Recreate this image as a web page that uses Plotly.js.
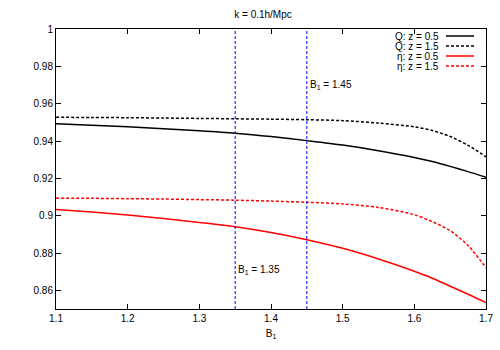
<!DOCTYPE html>
<html>
<head>
<meta charset="utf-8">
<script src="https://cdn.plot.ly/plotly-3.0.1.min.js"></script>
<style>html,body{margin:0;padding:0;background:#fff;}#chart{width:500px;height:350px;}</style>
</head>
<body>
<div id="chart"></div>
<script>
var B1 = [1.1, 1.15, 1.2, 1.25, 1.3, 1.35, 1.4, 1.45, 1.5, 1.55, 1.6, 1.625, 1.65, 1.675, 1.7];
var Q_z05 = [0.9493, 0.9485, 0.9476, 0.9466, 0.9455, 0.9442, 0.9424, 0.9402, 0.9378, 0.9348, 0.9312, 0.9290, 0.9264, 0.9236, 0.9206];
var Q_z15 = [0.9527, 0.9526, 0.9525, 0.9523, 0.9521, 0.9519, 0.9517, 0.9514, 0.9509, 0.9496, 0.9476, 0.9456, 0.9424, 0.9377, 0.9315];
var eta_z05 = [0.9033, 0.9019, 0.9003, 0.8985, 0.8964, 0.8941, 0.8910, 0.8871, 0.8825, 0.8768, 0.8702, 0.8665, 0.8622, 0.8579, 0.8534];
var eta_z15 = [0.9094, 0.9093, 0.9091, 0.9089, 0.9086, 0.9083, 0.9078, 0.9072, 0.9063, 0.9044, 0.9005, 0.8968, 0.8920, 0.8840, 0.8721];
var seriesNames = ["Q: z = 0.5", "Q: z = 1.5", "\u03b7: z = 0.5", "\u03b7: z = 1.5"];
var markers = [1.35, 1.45];
var markerLabels = ["B<sub>1</sub> = 1.35", "B<sub>1</sub> = 1.45"];
var markerLabelY = [0.8709, 0.9698];
var yRange = [0.85, 1];
var xRange = [1.1, 1.7];

var styles = [
  {color: "#000000", dash: "solid"},
  {color: "#000000", dash: "3px,2px"},
  {color: "#ff0000", dash: "solid"},
  {color: "#ff0000", dash: "3px,2px"}
];
var ys = [Q_z05, Q_z15, eta_z05, eta_z15];
var traces = ys.map(function (y, i) {
  return {x: B1, y: y, type: "scatter", mode: "lines", name: seriesNames[i],
    line: {color: styles[i].color, dash: styles[i].dash, width: 1.5, shape: "spline", smoothing: 0.8},
    showlegend: false, hoverinfo: "skip"};
});
// vertical marker lines
markers.forEach(function (m) {
  traces.push({x: [m, m], y: yRange, type: "scatter", mode: "lines",
    line: {color: "#0000ff", dash: "3px,2px", width: 1}, showlegend: false, hoverinfo: "skip"});
});

var font = {family: "Liberation Sans, Arial, sans-serif", size: 10, color: "#000"};
var annotations = markers.map(function (m, i) {
  return {x: m, y: markerLabelY[i], xref: "x", yref: "y", text: markerLabels[i], showarrow: false,
    xanchor: "left", yanchor: "middle", xshift: 1, font: font};
});
var shapes = [];
// custom legend (gnuplot style: text right, sample line at right)
var legTop = 1 - (36 - 29) / 280;
seriesNames.forEach(function (n, i) {
  var yp = legTop - i * 10 / 280;
  annotations.push({x: (441 - 56) / 430, y: yp, xref: "paper", yref: "paper", text: n, showarrow: false,
    xanchor: "right", yanchor: "middle", font: font});
  shapes.push({type: "line", xref: "paper", yref: "paper", x0: (446 - 56) / 430, x1: (474 - 56) / 430,
    y0: yp, y1: yp, line: {color: styles[i].color, dash: styles[i].dash, width: 1.5}});
});

var layout = {
  width: 500, height: 350,
  margin: {l: 56, r: 14, t: 29, b: 41},
  paper_bgcolor: "#fff", plot_bgcolor: "#fff",
  font: font,
  title: {text: "k = 0.1h/Mpc", x: 263 / 500, xref: "container", xanchor: "center",
    y: 1 - 14 / 350, yref: "container", yanchor: "middle", font: font},
  xaxis: {range: xRange, dtick: 0.1, tick0: 1.1, showgrid: false, zeroline: false,
    showline: true, linecolor: "#000", linewidth: 1, mirror: "allticks",
    ticks: "inside", ticklen: 5, tickcolor: "#000", tickfont: font,
    title: {text: "B<sub>1</sub>", font: font, standoff: 6}},
  yaxis: {range: yRange, dtick: 0.02, tick0: 0.86, showgrid: false, zeroline: false,
    showline: true, linecolor: "#000", linewidth: 1, mirror: "allticks",
    ticks: "inside", ticklen: 5, tickcolor: "#000", tickfont: font},
  annotations: annotations,
  shapes: shapes
};
Plotly.newPlot("chart", traces, layout, {staticPlot: true});
</script>
</body>
</html>
